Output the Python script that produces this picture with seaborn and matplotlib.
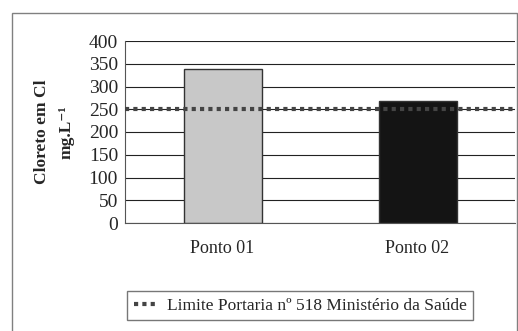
import matplotlib
matplotlib.use("Agg")
import matplotlib.pyplot as plt
import seaborn as sns
import pandas as pd
from matplotlib.patches import Rectangle

# values
pontos = ["Ponto 01", "Ponto 02"]
cloreto = [338, 268]
limite = 250
cores = ["#c8c8c8", "#141414"]

df = pd.DataFrame({"ponto": pontos, "cloreto": cloreto})

sns.set_style("white")
plt.rcParams["font.family"] = ["Liberation Serif", "DejaVu Serif"]

fig = plt.figure(figsize=(5.18, 3.31), dpi=100)
ax = fig.add_axes([125 / 518, 1 - 223 / 331, 390 / 518, 182 / 331])

# outer frame of the chart
fig.patches.append(Rectangle((12 / 518, -0.01), 505 / 518, 1 - 13 / 331 + 0.01,
                             transform=fig.transFigure, fill=False,
                             edgecolor="#808080", lw=1.0))

ax.set_ylim(0, 400)
ax.set_yticks(range(0, 401, 50))
ax.yaxis.grid(True, color="#222222", lw=0.8)
ax.set_axisbelow(True)

sns.barplot(data=df, x="ponto", y="cloreto", hue="ponto", palette=cores,
            width=0.4, edgecolor="#333333", linewidth=1.0, legend=False, ax=ax)

ax.set_xlim(-0.5, 1.5)
ln = ax.axhline(limite, color="#444444", lw=3.0, ls=(0, (1, 1)),
                label="Limite Portaria nº 518 Ministério da Saúde", zorder=5)

for side in ["top", "right"]:
    ax.spines[side].set_visible(False)
ax.spines["left"].set_color("#555555")
ax.spines["bottom"].set_color("#555555")

ax.set_xticks([-0.5, 0.5, 1.5], minor=True)
ax.tick_params(axis="x", which="minor", length=4, color="#555555")
ax.tick_params(axis="x", which="major", length=0, pad=12, labelsize=13)
ax.tick_params(axis="y", length=4, color="#555555", direction="out", labelsize=14, pad=1)
ax.set_xlabel("")
ax.set_ylabel("Cloreto em Cl\nmg.L⁻¹", fontsize=12.5, fontweight="bold",
              labelpad=10, linespacing=1.75)

fig.legend(handles=[ln], loc="center", bbox_to_anchor=(300 / 518, 1 - 305.5 / 331),
           frameon=True, fancybox=False, edgecolor="#555555", fontsize=12.5,
           handlelength=1.4, handletextpad=0.5, borderpad=0.35)

fig.savefig("out.png", dpi=100)
